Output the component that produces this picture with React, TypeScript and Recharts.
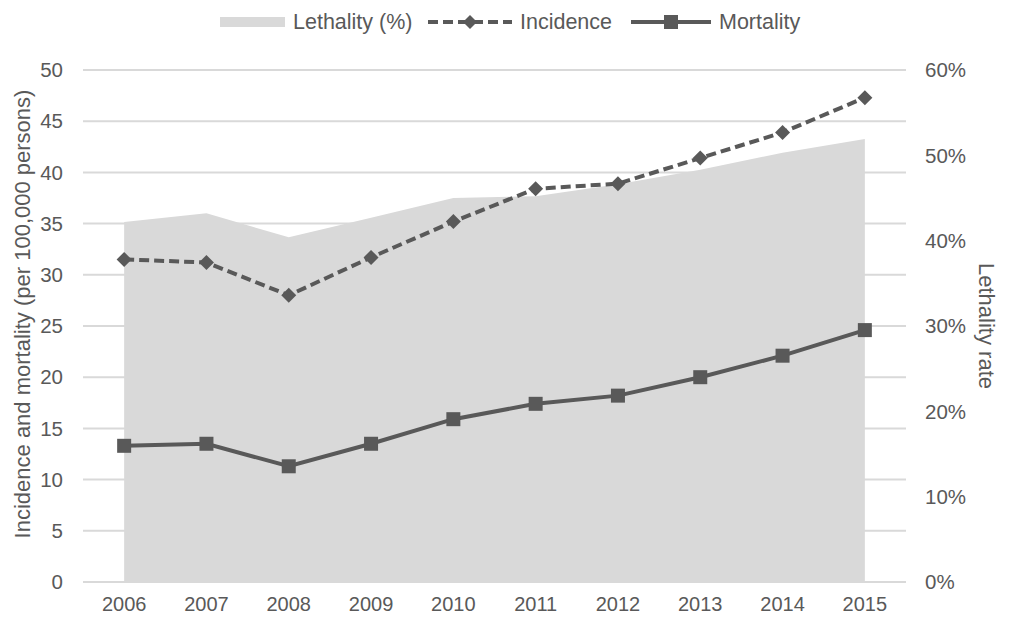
import { ComposedChart, Area, Line, XAxis, YAxis, CartesianGrid, Legend } from 'recharts';

const years = ['2006', '2007', '2008', '2009', '2010', '2011', '2012', '2013', '2014', '2015'];
const incidence = [31.5, 31.2, 28.0, 31.7, 35.2, 38.4, 38.9, 41.4, 43.9, 47.3];
const mortality = [13.3, 13.5, 11.3, 13.5, 15.9, 17.4, 18.2, 20.0, 22.1, 24.6];
const lethality = [42.2, 43.2, 40.4, 42.7, 45.0, 45.2, 46.6, 48.3, 50.3, 51.9];

const leftTicks = [0, 5, 10, 15, 20, 25, 30, 35, 40, 45, 50];
const rightTicks = [0, 10, 20, 30, 40, 50, 60];

const data = years.map((year, i) => ({
  year,
  lethality: lethality[i],
  incidence: incidence[i],
  mortality: mortality[i],
}));

const TEXT = '#595959';
const LINE = '#595959';
const GREY = '#d9d9d9';
const FONT = '"Liberation Sans", Arial, sans-serif';

const Diamond = (props: any) => {
  const { cx, cy } = props;
  if (cx == null || cy == null) return null;
  const r = 7.5;
  return <path d={`M${cx},${cy - r}L${cx + r},${cy}L${cx},${cy + r}L${cx - r},${cy}Z`} fill={LINE} />;
};

const Square = (props: any) => {
  const { cx, cy } = props;
  if (cx == null || cy == null) return null;
  const s = 14;
  return <rect x={cx - s / 2} y={cy - s / 2} width={s} height={s} fill={LINE} />;
};

const LegendContent = () => (
  <div style={{ height: 60, position: 'relative', fontFamily: FONT, fontSize: 21.5, color: TEXT }}>
    <div style={{ position: 'absolute', left: 220, top: 0, display: 'flex', alignItems: 'center', height: 24 }}>
      <div style={{ width: 65, height: 10, background: GREY, marginRight: 8 }} />
      <span>Lethality (%)</span>
    </div>
    <div style={{ position: 'absolute', left: 428, top: 0, display: 'flex', alignItems: 'center', height: 24 }}>
      <svg width={84} height={16} style={{ marginRight: 8 }}>
        <line x1={0} y1={8} x2={84} y2={8} stroke={LINE} strokeWidth={4} strokeDasharray="10 5" />
        <path d="M42,1L49,8L42,15L35,8Z" fill={LINE} />
      </svg>
      <span>Incidence</span>
    </div>
    <div style={{ position: 'absolute', left: 631, top: 0, display: 'flex', alignItems: 'center', height: 24 }}>
      <svg width={80} height={16} style={{ marginRight: 8 }}>
        <line x1={0} y1={8} x2={80} y2={8} stroke={LINE} strokeWidth={4} />
        <rect x={33} y={1} width={14} height={14} fill={LINE} />
      </svg>
      <span>Mortality</span>
    </div>
  </div>
);

const LeftLabel = (props: any) => {
  const vb = props.viewBox || {};
  const x = 22;
  const y = (vb.y ?? 70) + (vb.height ?? 512) / 2 - 12;
  return (
    <text x={x} y={y} transform={`rotate(-90 ${x} ${y})`} textAnchor="middle" dominantBaseline="central"
      fill={TEXT} fontSize={22} fontFamily={FONT}>
      Incidence and mortality (per 100,000 persons)
    </text>
  );
};

const RightLabel = (props: any) => {
  const vb = props.viewBox || {};
  const x = 986;
  const y = (vb.y ?? 70) + (vb.height ?? 512) / 2;
  return (
    <text x={x} y={y} transform={`rotate(90 ${x} ${y})`} textAnchor="middle" dominantBaseline="central"
      fill={TEXT} fontSize={22} fontFamily={FONT}>
      Lethality rate
    </text>
  );
};

export default function App() {
  const tick = { fill: TEXT, fontSize: 20.5, fontFamily: FONT };
  return (
    <div style={{ position: 'absolute', left: 0, top: 0, width: 1009, height: 617, background: '#fff' }}>
      <ComposedChart width={1009} height={617} data={data} margin={{ top: 10, right: 0, bottom: 0, left: 0 }}>
        <CartesianGrid yAxisId="left" stroke={GREY} strokeWidth={2} vertical={false} />
        <Legend verticalAlign="top" content={<LegendContent />} />
        <XAxis
          dataKey="year"
          scale="band"
          axisLine={false}
          tickLine={false}
          tickSize={0}
          tickMargin={15}
          height={35}
          tick={{ ...tick, fontSize: 20 }}
        />
        <YAxis
          yAxisId="left"
          domain={[0, 50]}
          ticks={leftTicks}
          axisLine={false}
          tickLine={false}
          tickSize={0}
          tickMargin={20}
          width={83}
          tick={tick}
          label={<LeftLabel />}
        />
        <YAxis
          yAxisId="right"
          orientation="right"
          domain={[0, 60]}
          ticks={rightTicks}
          tickFormatter={(v: number) => `${v}%`}
          axisLine={false}
          tickLine={false}
          tickSize={0}
          tickMargin={19}
          width={103}
          tick={{ ...tick, textAnchor: 'start' }}
          label={<RightLabel />}
        />
        <Area
          yAxisId="right"
          type="linear"
          dataKey="lethality"
          fill={GREY}
          fillOpacity={1}
          stroke="none"
          isAnimationActive={false}
        />
        <Line
          yAxisId="left"
          type="linear"
          dataKey="incidence"
          stroke={LINE}
          strokeWidth={4}
          strokeDasharray="10 5"
          dot={<Diamond />}
          activeDot={false}
          isAnimationActive={false}
        />
        <Line
          yAxisId="left"
          type="linear"
          dataKey="mortality"
          stroke={LINE}
          strokeWidth={4}
          dot={<Square />}
          activeDot={false}
          isAnimationActive={false}
        />
      </ComposedChart>
    </div>
  );
}
